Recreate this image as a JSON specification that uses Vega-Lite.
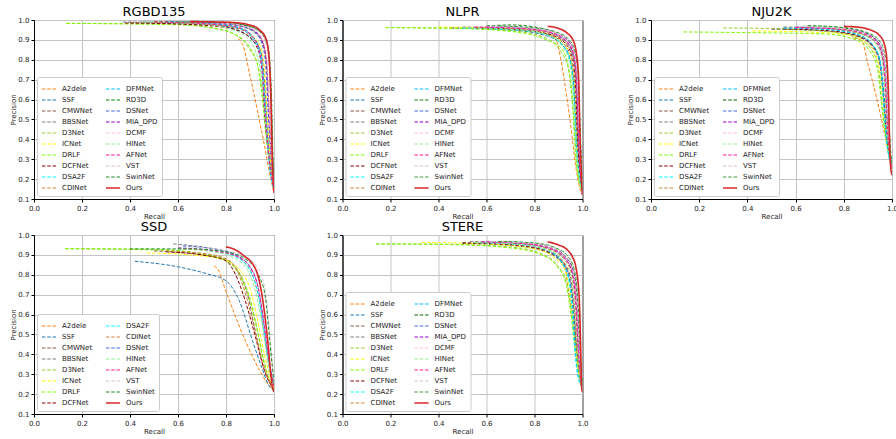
{
"$schema": "https://vega.github.io/schema/vega-lite/v6.json",
"background": "white",
"padding": {"left": 9, "top": 5, "right": 2, "bottom": 0},
"config": {
  "font": "DejaVu Sans",
  "view": {"stroke": "black", "strokeWidth": 1},
  "title": {"fontSize": 13, "fontWeight": "normal", "font": "DejaVu Sans", "offset": -3, "color": "black"},
  "style": {"group-title": {"fontSize": 13, "fontWeight": "normal", "font": "DejaVu Sans"}},
  "axis": {"labelFlush": false, "labelFontSize": 7, "titleFontSize": 7, "titleFontWeight": "normal", "labelFont": "DejaVu Sans", "titleFont": "DejaVu Sans", "gridColor": "#c4c4c4", "gridWidth": 1, "domainColor": "black", "tickColor": "black", "tickSize": 3, "labelColor": "#222222", "titleColor": "#222222", "titlePadding": 1, "labelPadding": 2},
  "legend": {"orient": "bottom-left", "offset": 3, "columns": 2, "symbolType": "stroke", "symbolSize": 200, "labelFontSize": 7, "labelFont": "DejaVu Sans", "labelColor": "#222222", "padding": 4, "rowPadding": -6.3, "columnPadding": 9, "fillColor": "white", "strokeColor": "#cccccc", "cornerRadius": 2, "labelOffset": 5, "labelLimit": 0}
},
"datasets": {
"rgbd": [
{"m":"A2dele","r":0.85,"p":0.905},{"m":"A2dele","r":0.87,"p":0.875},{"m":"A2dele","r":0.9,"p":0.72},{"m":"A2dele","r":0.93,"p":0.55},{"m":"A2dele","r":0.96,"p":0.37},{"m":"A2dele","r":0.98,"p":0.24},{"m":"A2dele","r":1.0,"p":0.13},
{"m":"SSF","r":0.45,"p":0.99},{"m":"SSF","r":0.7,"p":0.98},{"m":"SSF","r":0.82,"p":0.96},{"m":"SSF","r":0.9,"p":0.91},{"m":"SSF","r":0.94,"p":0.84},{"m":"SSF","r":0.955,"p":0.72},{"m":"SSF","r":0.965,"p":0.5},{"m":"SSF","r":0.98,"p":0.28},{"m":"SSF","r":1.0,"p":0.15},
{"m":"CMWNet","r":0.4,"p":0.985},{"m":"CMWNet","r":0.7,"p":0.978},{"m":"CMWNet","r":0.84,"p":0.96},{"m":"CMWNet","r":0.91,"p":0.91},{"m":"CMWNet","r":0.945,"p":0.84},{"m":"CMWNet","r":0.96,"p":0.7},{"m":"CMWNet","r":0.97,"p":0.5},{"m":"CMWNet","r":0.985,"p":0.28},{"m":"CMWNet","r":1.0,"p":0.15},
{"m":"BBSNet","r":0.37,"p":0.99},{"m":"BBSNet","r":0.7,"p":0.985},{"m":"BBSNet","r":0.85,"p":0.97},{"m":"BBSNet","r":0.92,"p":0.935},{"m":"BBSNet","r":0.955,"p":0.87},{"m":"BBSNet","r":0.97,"p":0.75},{"m":"BBSNet","r":0.98,"p":0.5},{"m":"BBSNet","r":0.99,"p":0.28},{"m":"BBSNet","r":1.0,"p":0.16},
{"m":"D3Net","r":0.135,"p":0.983},{"m":"D3Net","r":0.6,"p":0.978},{"m":"D3Net","r":0.75,"p":0.96},{"m":"D3Net","r":0.84,"p":0.925},{"m":"D3Net","r":0.9,"p":0.85},{"m":"D3Net","r":0.935,"p":0.76},{"m":"D3Net","r":0.955,"p":0.6},{"m":"D3Net","r":0.975,"p":0.35},{"m":"D3Net","r":1.0,"p":0.15},
{"m":"ICNet","r":0.5,"p":0.99},{"m":"ICNet","r":0.72,"p":0.98},{"m":"ICNet","r":0.85,"p":0.96},{"m":"ICNet","r":0.91,"p":0.92},{"m":"ICNet","r":0.945,"p":0.86},{"m":"ICNet","r":0.96,"p":0.76},{"m":"ICNet","r":0.97,"p":0.55},{"m":"ICNet","r":0.985,"p":0.3},{"m":"ICNet","r":1.0,"p":0.15},
{"m":"DRLF","r":0.135,"p":0.983},{"m":"DRLF","r":0.6,"p":0.976},{"m":"DRLF","r":0.76,"p":0.955},{"m":"DRLF","r":0.85,"p":0.92},{"m":"DRLF","r":0.9,"p":0.86},{"m":"DRLF","r":0.93,"p":0.78},{"m":"DRLF","r":0.95,"p":0.62},{"m":"DRLF","r":0.97,"p":0.38},{"m":"DRLF","r":1.0,"p":0.15},
{"m":"DCFNet","r":0.38,"p":0.985},{"m":"DCFNet","r":0.6,"p":0.98},{"m":"DCFNet","r":0.78,"p":0.965},{"m":"DCFNet","r":0.88,"p":0.93},{"m":"DCFNet","r":0.93,"p":0.86},{"m":"DCFNet","r":0.95,"p":0.75},{"m":"DCFNet","r":0.96,"p":0.55},{"m":"DCFNet","r":0.98,"p":0.3},{"m":"DCFNet","r":1.0,"p":0.15},
{"m":"DSA2F","r":0.55,"p":0.99},{"m":"DSA2F","r":0.75,"p":0.98},{"m":"DSA2F","r":0.85,"p":0.96},{"m":"DSA2F","r":0.91,"p":0.91},{"m":"DSA2F","r":0.94,"p":0.83},{"m":"DSA2F","r":0.955,"p":0.7},{"m":"DSA2F","r":0.965,"p":0.5},{"m":"DSA2F","r":0.98,"p":0.28},{"m":"DSA2F","r":1.0,"p":0.14},
{"m":"CDINet","r":0.5,"p":0.99},{"m":"CDINet","r":0.75,"p":0.985},{"m":"CDINet","r":0.86,"p":0.97},{"m":"CDINet","r":0.92,"p":0.94},{"m":"CDINet","r":0.955,"p":0.88},{"m":"CDINet","r":0.97,"p":0.77},{"m":"CDINet","r":0.98,"p":0.55},{"m":"CDINet","r":0.99,"p":0.3},{"m":"CDINet","r":1.0,"p":0.15},
{"m":"DFMNet","r":0.55,"p":0.99},{"m":"DFMNet","r":0.75,"p":0.98},{"m":"DFMNet","r":0.86,"p":0.96},{"m":"DFMNet","r":0.91,"p":0.92},{"m":"DFMNet","r":0.94,"p":0.85},{"m":"DFMNet","r":0.955,"p":0.72},{"m":"DFMNet","r":0.968,"p":0.5},{"m":"DFMNet","r":0.982,"p":0.28},{"m":"DFMNet","r":1.0,"p":0.14},
{"m":"RD3D","r":0.5,"p":0.99},{"m":"RD3D","r":0.75,"p":0.988},{"m":"RD3D","r":0.87,"p":0.975},{"m":"RD3D","r":0.93,"p":0.95},{"m":"RD3D","r":0.965,"p":0.9},{"m":"RD3D","r":0.98,"p":0.8},{"m":"RD3D","r":0.988,"p":0.6},{"m":"RD3D","r":0.995,"p":0.3},{"m":"RD3D","r":1.0,"p":0.15},
{"m":"DSNet","r":0.55,"p":0.99},{"m":"DSNet","r":0.75,"p":0.985},{"m":"DSNet","r":0.86,"p":0.97},{"m":"DSNet","r":0.92,"p":0.94},{"m":"DSNet","r":0.95,"p":0.88},{"m":"DSNet","r":0.965,"p":0.78},{"m":"DSNet","r":0.975,"p":0.55},{"m":"DSNet","r":0.988,"p":0.3},{"m":"DSNet","r":1.0,"p":0.15},
{"m":"MIA_DPD","r":0.6,"p":0.99},{"m":"MIA_DPD","r":0.78,"p":0.985},{"m":"MIA_DPD","r":0.87,"p":0.97},{"m":"MIA_DPD","r":0.925,"p":0.94},{"m":"MIA_DPD","r":0.955,"p":0.88},{"m":"MIA_DPD","r":0.97,"p":0.78},{"m":"MIA_DPD","r":0.978,"p":0.55},{"m":"MIA_DPD","r":0.99,"p":0.3},{"m":"MIA_DPD","r":1.0,"p":0.15},
{"m":"DCMF","r":0.6,"p":0.99},{"m":"DCMF","r":0.78,"p":0.985},{"m":"DCMF","r":0.87,"p":0.97},{"m":"DCMF","r":0.93,"p":0.94},{"m":"DCMF","r":0.96,"p":0.88},{"m":"DCMF","r":0.972,"p":0.78},{"m":"DCMF","r":0.98,"p":0.55},{"m":"DCMF","r":0.99,"p":0.3},{"m":"DCMF","r":1.0,"p":0.16},
{"m":"HINet","r":0.45,"p":0.99},{"m":"HINet","r":0.7,"p":0.98},{"m":"HINet","r":0.8,"p":0.96},{"m":"HINet","r":0.88,"p":0.92},{"m":"HINet","r":0.92,"p":0.85},{"m":"HINet","r":0.945,"p":0.74},{"m":"HINet","r":0.96,"p":0.55},{"m":"HINet","r":0.978,"p":0.32},{"m":"HINet","r":1.0,"p":0.15},
{"m":"AFNet","r":0.5,"p":0.99},{"m":"AFNet","r":0.72,"p":0.98},{"m":"AFNet","r":0.84,"p":0.965},{"m":"AFNet","r":0.9,"p":0.93},{"m":"AFNet","r":0.935,"p":0.86},{"m":"AFNet","r":0.95,"p":0.75},{"m":"AFNet","r":0.962,"p":0.55},{"m":"AFNet","r":0.98,"p":0.3},{"m":"AFNet","r":1.0,"p":0.15},
{"m":"VST","r":0.6,"p":0.99},{"m":"VST","r":0.8,"p":0.985},{"m":"VST","r":0.88,"p":0.97},{"m":"VST","r":0.935,"p":0.945},{"m":"VST","r":0.965,"p":0.89},{"m":"VST","r":0.978,"p":0.8},{"m":"VST","r":0.985,"p":0.6},{"m":"VST","r":0.993,"p":0.3},{"m":"VST","r":1.0,"p":0.16},
{"m":"SwinNet","r":0.6,"p":0.99},{"m":"SwinNet","r":0.8,"p":0.988},{"m":"SwinNet","r":0.88,"p":0.975},{"m":"SwinNet","r":0.935,"p":0.95},{"m":"SwinNet","r":0.968,"p":0.9},{"m":"SwinNet","r":0.982,"p":0.8},{"m":"SwinNet","r":0.99,"p":0.6},{"m":"SwinNet","r":0.996,"p":0.3},{"m":"SwinNet","r":1.0,"p":0.16},
{"m":"Ours","r":0.65,"p":0.992},{"m":"Ours","r":0.82,"p":0.988},{"m":"Ours","r":0.9,"p":0.975},{"m":"Ours","r":0.94,"p":0.95},{"m":"Ours","r":0.965,"p":0.91},{"m":"Ours","r":0.978,"p":0.83},{"m":"Ours","r":0.986,"p":0.65},{"m":"Ours","r":0.993,"p":0.3},{"m":"Ours","r":1.0,"p":0.13}
],
"nlpr": [
{"m":"A2dele","r":0.86,"p":0.925},{"m":"A2dele","r":0.89,"p":0.9},{"m":"A2dele","r":0.91,"p":0.8},{"m":"A2dele","r":0.93,"p":0.65},{"m":"A2dele","r":0.95,"p":0.48},{"m":"A2dele","r":0.97,"p":0.28},{"m":"A2dele","r":0.99,"p":0.15},{"m":"A2dele","r":1.0,"p":0.12},
{"m":"SSF","r":0.45,"p":0.96},{"m":"SSF","r":0.7,"p":0.95},{"m":"SSF","r":0.85,"p":0.92},{"m":"SSF","r":0.92,"p":0.87},{"m":"SSF","r":0.95,"p":0.8},{"m":"SSF","r":0.965,"p":0.65},{"m":"SSF","r":0.975,"p":0.4},{"m":"SSF","r":1.0,"p":0.13},
{"m":"CMWNet","r":0.45,"p":0.96},{"m":"CMWNet","r":0.7,"p":0.952},{"m":"CMWNet","r":0.86,"p":0.925},{"m":"CMWNet","r":0.925,"p":0.875},{"m":"CMWNet","r":0.955,"p":0.8},{"m":"CMWNet","r":0.968,"p":0.65},{"m":"CMWNet","r":0.978,"p":0.4},{"m":"CMWNet","r":1.0,"p":0.13},
{"m":"BBSNet","r":0.62,"p":0.97},{"m":"BBSNet","r":0.75,"p":0.96},{"m":"BBSNet","r":0.87,"p":0.935},{"m":"BBSNet","r":0.93,"p":0.89},{"m":"BBSNet","r":0.96,"p":0.82},{"m":"BBSNet","r":0.973,"p":0.68},{"m":"BBSNet","r":0.982,"p":0.4},{"m":"BBSNet","r":1.0,"p":0.13},
{"m":"D3Net","r":0.18,"p":0.962},{"m":"D3Net","r":0.5,"p":0.958},{"m":"D3Net","r":0.75,"p":0.94},{"m":"D3Net","r":0.86,"p":0.9},{"m":"D3Net","r":0.91,"p":0.84},{"m":"D3Net","r":0.94,"p":0.76},{"m":"D3Net","r":0.96,"p":0.55},{"m":"D3Net","r":0.975,"p":0.3},{"m":"D3Net","r":1.0,"p":0.13},
{"m":"ICNet","r":0.4,"p":0.965},{"m":"ICNet","r":0.7,"p":0.955},{"m":"ICNet","r":0.85,"p":0.93},{"m":"ICNet","r":0.92,"p":0.88},{"m":"ICNet","r":0.95,"p":0.81},{"m":"ICNet","r":0.965,"p":0.68},{"m":"ICNet","r":0.976,"p":0.4},{"m":"ICNet","r":1.0,"p":0.13},
{"m":"DRLF","r":0.18,"p":0.962},{"m":"DRLF","r":0.5,"p":0.957},{"m":"DRLF","r":0.75,"p":0.935},{"m":"DRLF","r":0.85,"p":0.9},{"m":"DRLF","r":0.91,"p":0.86},{"m":"DRLF","r":0.94,"p":0.77},{"m":"DRLF","r":0.958,"p":0.6},{"m":"DRLF","r":0.972,"p":0.3},{"m":"DRLF","r":1.0,"p":0.13},
{"m":"DCFNet","r":0.55,"p":0.96},{"m":"DCFNet","r":0.75,"p":0.95},{"m":"DCFNet","r":0.87,"p":0.925},{"m":"DCFNet","r":0.93,"p":0.88},{"m":"DCFNet","r":0.96,"p":0.8},{"m":"DCFNet","r":0.972,"p":0.65},{"m":"DCFNet","r":0.98,"p":0.4},{"m":"DCFNet","r":1.0,"p":0.13},
{"m":"DSA2F","r":0.5,"p":0.96},{"m":"DSA2F","r":0.75,"p":0.948},{"m":"DSA2F","r":0.86,"p":0.92},{"m":"DSA2F","r":0.92,"p":0.87},{"m":"DSA2F","r":0.95,"p":0.78},{"m":"DSA2F","r":0.962,"p":0.65},{"m":"DSA2F","r":0.972,"p":0.4},{"m":"DSA2F","r":1.0,"p":0.13},
{"m":"CDINet","r":0.5,"p":0.965},{"m":"CDINet","r":0.75,"p":0.955},{"m":"CDINet","r":0.87,"p":0.93},{"m":"CDINet","r":0.93,"p":0.885},{"m":"CDINet","r":0.96,"p":0.82},{"m":"CDINet","r":0.975,"p":0.68},{"m":"CDINet","r":0.983,"p":0.4},{"m":"CDINet","r":1.0,"p":0.13},
{"m":"DFMNet","r":0.5,"p":0.96},{"m":"DFMNet","r":0.75,"p":0.948},{"m":"DFMNet","r":0.86,"p":0.92},{"m":"DFMNet","r":0.92,"p":0.87},{"m":"DFMNet","r":0.95,"p":0.79},{"m":"DFMNet","r":0.964,"p":0.65},{"m":"DFMNet","r":0.974,"p":0.4},{"m":"DFMNet","r":1.0,"p":0.13},
{"m":"RD3D","r":0.6,"p":0.97},{"m":"RD3D","r":0.7,"p":0.975},{"m":"RD3D","r":0.8,"p":0.965},{"m":"RD3D","r":0.88,"p":0.94},{"m":"RD3D","r":0.94,"p":0.9},{"m":"RD3D","r":0.97,"p":0.83},{"m":"RD3D","r":0.983,"p":0.7},{"m":"RD3D","r":0.99,"p":0.45},{"m":"RD3D","r":1.0,"p":0.14},
{"m":"DSNet","r":0.6,"p":0.965},{"m":"DSNet","r":0.78,"p":0.955},{"m":"DSNet","r":0.88,"p":0.93},{"m":"DSNet","r":0.935,"p":0.89},{"m":"DSNet","r":0.963,"p":0.82},{"m":"DSNet","r":0.976,"p":0.68},{"m":"DSNet","r":0.984,"p":0.4},{"m":"DSNet","r":1.0,"p":0.13},
{"m":"MIA_DPD","r":0.6,"p":0.965},{"m":"MIA_DPD","r":0.78,"p":0.955},{"m":"MIA_DPD","r":0.88,"p":0.935},{"m":"MIA_DPD","r":0.94,"p":0.895},{"m":"MIA_DPD","r":0.965,"p":0.83},{"m":"MIA_DPD","r":0.977,"p":0.7},{"m":"MIA_DPD","r":0.985,"p":0.4},{"m":"MIA_DPD","r":1.0,"p":0.13},
{"m":"DCMF","r":0.6,"p":0.965},{"m":"DCMF","r":0.78,"p":0.955},{"m":"DCMF","r":0.88,"p":0.935},{"m":"DCMF","r":0.94,"p":0.89},{"m":"DCMF","r":0.966,"p":0.82},{"m":"DCMF","r":0.978,"p":0.68},{"m":"DCMF","r":0.986,"p":0.4},{"m":"DCMF","r":1.0,"p":0.13},
{"m":"HINet","r":0.5,"p":0.96},{"m":"HINet","r":0.75,"p":0.948},{"m":"HINet","r":0.86,"p":0.92},{"m":"HINet","r":0.92,"p":0.86},{"m":"HINet","r":0.948,"p":0.78},{"m":"HINet","r":0.962,"p":0.62},{"m":"HINet","r":0.973,"p":0.38},{"m":"HINet","r":1.0,"p":0.13},
{"m":"AFNet","r":0.55,"p":0.965},{"m":"AFNet","r":0.78,"p":0.955},{"m":"AFNet","r":0.88,"p":0.932},{"m":"AFNet","r":0.935,"p":0.89},{"m":"AFNet","r":0.962,"p":0.83},{"m":"AFNet","r":0.975,"p":0.7},{"m":"AFNet","r":0.983,"p":0.42},{"m":"AFNet","r":1.0,"p":0.13},
{"m":"VST","r":0.62,"p":0.97},{"m":"VST","r":0.8,"p":0.958},{"m":"VST","r":0.89,"p":0.935},{"m":"VST","r":0.945,"p":0.895},{"m":"VST","r":0.968,"p":0.83},{"m":"VST","r":0.98,"p":0.7},{"m":"VST","r":0.988,"p":0.42},{"m":"VST","r":1.0,"p":0.13},
{"m":"SwinNet","r":0.65,"p":0.97},{"m":"SwinNet","r":0.8,"p":0.96},{"m":"SwinNet","r":0.89,"p":0.94},{"m":"SwinNet","r":0.945,"p":0.9},{"m":"SwinNet","r":0.97,"p":0.84},{"m":"SwinNet","r":0.982,"p":0.72},{"m":"SwinNet","r":0.99,"p":0.45},{"m":"SwinNet","r":1.0,"p":0.14},
{"m":"Ours","r":0.855,"p":0.968},{"m":"Ours","r":0.9,"p":0.958},{"m":"Ours","r":0.935,"p":0.935},{"m":"Ours","r":0.96,"p":0.9},{"m":"Ours","r":0.975,"p":0.83},{"m":"Ours","r":0.984,"p":0.7},{"m":"Ours","r":0.99,"p":0.4},{"m":"Ours","r":1.0,"p":0.12}
],
"nju": [
{"m":"A2dele","r":0.84,"p":0.91},{"m":"A2dele","r":0.875,"p":0.895},{"m":"A2dele","r":0.9,"p":0.78},{"m":"A2dele","r":0.93,"p":0.64},{"m":"A2dele","r":0.96,"p":0.48},{"m":"A2dele","r":0.98,"p":0.37},{"m":"A2dele","r":1.0,"p":0.25},
{"m":"SSF","r":0.5,"p":0.955},{"m":"SSF","r":0.72,"p":0.945},{"m":"SSF","r":0.85,"p":0.92},{"m":"SSF","r":0.92,"p":0.87},{"m":"SSF","r":0.95,"p":0.8},{"m":"SSF","r":0.965,"p":0.65},{"m":"SSF","r":0.978,"p":0.45},{"m":"SSF","r":1.0,"p":0.26},
{"m":"CMWNet","r":0.5,"p":0.955},{"m":"CMWNet","r":0.72,"p":0.945},{"m":"CMWNet","r":0.85,"p":0.92},{"m":"CMWNet","r":0.915,"p":0.87},{"m":"CMWNet","r":0.948,"p":0.79},{"m":"CMWNet","r":0.962,"p":0.65},{"m":"CMWNet","r":0.975,"p":0.45},{"m":"CMWNet","r":1.0,"p":0.26},
{"m":"BBSNet","r":0.55,"p":0.965},{"m":"BBSNet","r":0.75,"p":0.955},{"m":"BBSNet","r":0.87,"p":0.93},{"m":"BBSNet","r":0.93,"p":0.89},{"m":"BBSNet","r":0.96,"p":0.82},{"m":"BBSNet","r":0.972,"p":0.68},{"m":"BBSNet","r":0.982,"p":0.45},{"m":"BBSNet","r":1.0,"p":0.26},
{"m":"D3Net","r":0.3,"p":0.96},{"m":"D3Net","r":0.55,"p":0.955},{"m":"D3Net","r":0.75,"p":0.94},{"m":"D3Net","r":0.86,"p":0.905},{"m":"D3Net","r":0.92,"p":0.84},{"m":"D3Net","r":0.945,"p":0.75},{"m":"D3Net","r":0.96,"p":0.55},{"m":"D3Net","r":0.98,"p":0.38},{"m":"D3Net","r":1.0,"p":0.26},
{"m":"ICNet","r":0.42,"p":0.945},{"m":"ICNet","r":0.65,"p":0.94},{"m":"ICNet","r":0.82,"p":0.925},{"m":"ICNet","r":0.9,"p":0.88},{"m":"ICNet","r":0.94,"p":0.8},{"m":"ICNet","r":0.958,"p":0.65},{"m":"ICNet","r":0.972,"p":0.45},{"m":"ICNet","r":1.0,"p":0.26},
{"m":"DRLF","r":0.135,"p":0.94},{"m":"DRLF","r":0.5,"p":0.935},{"m":"DRLF","r":0.72,"p":0.93},{"m":"DRLF","r":0.85,"p":0.9},{"m":"DRLF","r":0.91,"p":0.84},{"m":"DRLF","r":0.94,"p":0.75},{"m":"DRLF","r":0.955,"p":0.6},{"m":"DRLF","r":0.975,"p":0.4},{"m":"DRLF","r":1.0,"p":0.26},
{"m":"DCFNet","r":0.55,"p":0.955},{"m":"DCFNet","r":0.75,"p":0.945},{"m":"DCFNet","r":0.86,"p":0.92},{"m":"DCFNet","r":0.92,"p":0.87},{"m":"DCFNet","r":0.948,"p":0.8},{"m":"DCFNet","r":0.962,"p":0.65},{"m":"DCFNet","r":0.975,"p":0.45},{"m":"DCFNet","r":1.0,"p":0.26},
{"m":"DSA2F","r":0.55,"p":0.96},{"m":"DSA2F","r":0.75,"p":0.95},{"m":"DSA2F","r":0.86,"p":0.925},{"m":"DSA2F","r":0.92,"p":0.875},{"m":"DSA2F","r":0.95,"p":0.8},{"m":"DSA2F","r":0.963,"p":0.62},{"m":"DSA2F","r":0.975,"p":0.42},{"m":"DSA2F","r":1.0,"p":0.26},
{"m":"CDINet","r":0.55,"p":0.96},{"m":"CDINet","r":0.75,"p":0.952},{"m":"CDINet","r":0.87,"p":0.93},{"m":"CDINet","r":0.93,"p":0.89},{"m":"CDINet","r":0.958,"p":0.82},{"m":"CDINet","r":0.97,"p":0.68},{"m":"CDINet","r":0.98,"p":0.45},{"m":"CDINet","r":1.0,"p":0.26},
{"m":"DFMNet","r":0.55,"p":0.96},{"m":"DFMNet","r":0.75,"p":0.95},{"m":"DFMNet","r":0.86,"p":0.925},{"m":"DFMNet","r":0.92,"p":0.875},{"m":"DFMNet","r":0.95,"p":0.79},{"m":"DFMNet","r":0.964,"p":0.62},{"m":"DFMNet","r":0.976,"p":0.42},{"m":"DFMNet","r":1.0,"p":0.26},
{"m":"RD3D","r":0.65,"p":0.97},{"m":"RD3D","r":0.78,"p":0.962},{"m":"RD3D","r":0.88,"p":0.94},{"m":"RD3D","r":0.935,"p":0.9},{"m":"RD3D","r":0.962,"p":0.83},{"m":"RD3D","r":0.974,"p":0.7},{"m":"RD3D","r":0.983,"p":0.48},{"m":"RD3D","r":1.0,"p":0.27},
{"m":"DSNet","r":0.6,"p":0.962},{"m":"DSNet","r":0.78,"p":0.955},{"m":"DSNet","r":0.88,"p":0.932},{"m":"DSNet","r":0.935,"p":0.89},{"m":"DSNet","r":0.96,"p":0.82},{"m":"DSNet","r":0.973,"p":0.68},{"m":"DSNet","r":0.982,"p":0.45},{"m":"DSNet","r":1.0,"p":0.26},
{"m":"MIA_DPD","r":0.6,"p":0.965},{"m":"MIA_DPD","r":0.78,"p":0.957},{"m":"MIA_DPD","r":0.88,"p":0.935},{"m":"MIA_DPD","r":0.938,"p":0.895},{"m":"MIA_DPD","r":0.962,"p":0.83},{"m":"MIA_DPD","r":0.975,"p":0.7},{"m":"MIA_DPD","r":0.984,"p":0.46},{"m":"MIA_DPD","r":1.0,"p":0.26},
{"m":"DCMF","r":0.6,"p":0.965},{"m":"DCMF","r":0.78,"p":0.956},{"m":"DCMF","r":0.88,"p":0.934},{"m":"DCMF","r":0.936,"p":0.893},{"m":"DCMF","r":0.962,"p":0.825},{"m":"DCMF","r":0.975,"p":0.69},{"m":"DCMF","r":0.984,"p":0.45},{"m":"DCMF","r":1.0,"p":0.26},
{"m":"HINet","r":0.63,"p":0.97},{"m":"HINet","r":0.78,"p":0.958},{"m":"HINet","r":0.87,"p":0.93},{"m":"HINet","r":0.93,"p":0.885},{"m":"HINet","r":0.958,"p":0.81},{"m":"HINet","r":0.97,"p":0.67},{"m":"HINet","r":0.98,"p":0.45},{"m":"HINet","r":1.0,"p":0.26},
{"m":"AFNet","r":0.6,"p":0.962},{"m":"AFNet","r":0.78,"p":0.954},{"m":"AFNet","r":0.88,"p":0.932},{"m":"AFNet","r":0.935,"p":0.89},{"m":"AFNet","r":0.96,"p":0.82},{"m":"AFNet","r":0.973,"p":0.68},{"m":"AFNet","r":0.982,"p":0.45},{"m":"AFNet","r":1.0,"p":0.26},
{"m":"VST","r":0.62,"p":0.968},{"m":"VST","r":0.8,"p":0.958},{"m":"VST","r":0.89,"p":0.937},{"m":"VST","r":0.943,"p":0.9},{"m":"VST","r":0.966,"p":0.835},{"m":"VST","r":0.978,"p":0.7},{"m":"VST","r":0.986,"p":0.46},{"m":"VST","r":1.0,"p":0.27},
{"m":"SwinNet","r":0.65,"p":0.972},{"m":"SwinNet","r":0.8,"p":0.962},{"m":"SwinNet","r":0.89,"p":0.94},{"m":"SwinNet","r":0.945,"p":0.9},{"m":"SwinNet","r":0.968,"p":0.84},{"m":"SwinNet","r":0.98,"p":0.72},{"m":"SwinNet","r":0.988,"p":0.48},{"m":"SwinNet","r":1.0,"p":0.27},
{"m":"Ours","r":0.8,"p":0.968},{"m":"Ours","r":0.86,"p":0.964},{"m":"Ours","r":0.91,"p":0.95},{"m":"Ours","r":0.946,"p":0.925},{"m":"Ours","r":0.968,"p":0.88},{"m":"Ours","r":0.98,"p":0.78},{"m":"Ours","r":0.986,"p":0.6},{"m":"Ours","r":0.992,"p":0.3},{"m":"Ours","r":1.0,"p":0.22}
],
"ssd": [
{"m":"A2dele","r":0.75,"p":0.844},{"m":"A2dele","r":0.77,"p":0.82},{"m":"A2dele","r":0.79,"p":0.75},{"m":"A2dele","r":0.83,"p":0.62},{"m":"A2dele","r":0.88,"p":0.47},{"m":"A2dele","r":0.94,"p":0.32},{"m":"A2dele","r":0.975,"p":0.25},{"m":"A2dele","r":1.0,"p":0.22},
{"m":"SSF","r":0.42,"p":0.868},{"m":"SSF","r":0.6,"p":0.84},{"m":"SSF","r":0.72,"p":0.805},{"m":"SSF","r":0.8,"p":0.77},{"m":"SSF","r":0.855,"p":0.67},{"m":"SSF","r":0.91,"p":0.47},{"m":"SSF","r":0.95,"p":0.33},{"m":"SSF","r":0.98,"p":0.24},{"m":"SSF","r":1.0,"p":0.22},
{"m":"CMWNet","r":0.5,"p":0.92},{"m":"CMWNet","r":0.7,"p":0.9},{"m":"CMWNet","r":0.8,"p":0.875},{"m":"CMWNet","r":0.85,"p":0.82},{"m":"CMWNet","r":0.89,"p":0.7},{"m":"CMWNet","r":0.925,"p":0.5},{"m":"CMWNet","r":0.96,"p":0.32},{"m":"CMWNet","r":1.0,"p":0.22},
{"m":"BBSNet","r":0.58,"p":0.955},{"m":"BBSNet","r":0.7,"p":0.94},{"m":"BBSNet","r":0.8,"p":0.915},{"m":"BBSNet","r":0.87,"p":0.87},{"m":"BBSNet","r":0.91,"p":0.8},{"m":"BBSNet","r":0.94,"p":0.66},{"m":"BBSNet","r":0.965,"p":0.45},{"m":"BBSNet","r":0.985,"p":0.3},{"m":"BBSNet","r":1.0,"p":0.23},
{"m":"D3Net","r":0.13,"p":0.93},{"m":"D3Net","r":0.5,"p":0.925},{"m":"D3Net","r":0.7,"p":0.905},{"m":"D3Net","r":0.8,"p":0.875},{"m":"D3Net","r":0.86,"p":0.8},{"m":"D3Net","r":0.9,"p":0.68},{"m":"D3Net","r":0.935,"p":0.5},{"m":"D3Net","r":0.965,"p":0.33},{"m":"D3Net","r":1.0,"p":0.22},
{"m":"ICNet","r":0.47,"p":0.91},{"m":"ICNet","r":0.65,"p":0.9},{"m":"ICNet","r":0.78,"p":0.88},{"m":"ICNet","r":0.86,"p":0.82},{"m":"ICNet","r":0.9,"p":0.73},{"m":"ICNet","r":0.93,"p":0.58},{"m":"ICNet","r":0.96,"p":0.4},{"m":"ICNet","r":0.985,"p":0.28},{"m":"ICNet","r":1.0,"p":0.23},
{"m":"DRLF","r":0.13,"p":0.932},{"m":"DRLF","r":0.5,"p":0.928},{"m":"DRLF","r":0.7,"p":0.905},{"m":"DRLF","r":0.8,"p":0.87},{"m":"DRLF","r":0.86,"p":0.79},{"m":"DRLF","r":0.9,"p":0.67},{"m":"DRLF","r":0.93,"p":0.52},{"m":"DRLF","r":0.96,"p":0.35},{"m":"DRLF","r":1.0,"p":0.22},
{"m":"DCFNet","r":0.55,"p":0.915},{"m":"DCFNet","r":0.7,"p":0.9},{"m":"DCFNet","r":0.8,"p":0.87},{"m":"DCFNet","r":0.84,"p":0.8},{"m":"DCFNet","r":0.88,"p":0.67},{"m":"DCFNet","r":0.92,"p":0.5},{"m":"DCFNet","r":0.96,"p":0.32},{"m":"DCFNet","r":1.0,"p":0.22},
{"m":"DSA2F","r":0.6,"p":0.935},{"m":"DSA2F","r":0.75,"p":0.92},{"m":"DSA2F","r":0.84,"p":0.89},{"m":"DSA2F","r":0.9,"p":0.82},{"m":"DSA2F","r":0.935,"p":0.7},{"m":"DSA2F","r":0.955,"p":0.55},{"m":"DSA2F","r":0.975,"p":0.38},{"m":"DSA2F","r":1.0,"p":0.24},
{"m":"CDINet","r":0.55,"p":0.92},{"m":"CDINet","r":0.72,"p":0.905},{"m":"CDINet","r":0.81,"p":0.875},{"m":"CDINet","r":0.85,"p":0.81},{"m":"CDINet","r":0.885,"p":0.69},{"m":"CDINet","r":0.92,"p":0.52},{"m":"CDINet","r":0.955,"p":0.35},{"m":"CDINet","r":1.0,"p":0.22},
{"m":"DSNet","r":0.62,"p":0.945},{"m":"DSNet","r":0.75,"p":0.93},{"m":"DSNet","r":0.84,"p":0.9},{"m":"DSNet","r":0.9,"p":0.84},{"m":"DSNet","r":0.935,"p":0.73},{"m":"DSNet","r":0.955,"p":0.58},{"m":"DSNet","r":0.975,"p":0.4},{"m":"DSNet","r":1.0,"p":0.24},
{"m":"HINet","r":0.6,"p":0.93},{"m":"HINet","r":0.75,"p":0.915},{"m":"HINet","r":0.84,"p":0.88},{"m":"HINet","r":0.9,"p":0.8},{"m":"HINet","r":0.93,"p":0.68},{"m":"HINet","r":0.955,"p":0.52},{"m":"HINet","r":0.975,"p":0.36},{"m":"HINet","r":1.0,"p":0.24},
{"m":"AFNet","r":0.6,"p":0.935},{"m":"AFNet","r":0.75,"p":0.92},{"m":"AFNet","r":0.85,"p":0.89},{"m":"AFNet","r":0.91,"p":0.82},{"m":"AFNet","r":0.94,"p":0.7},{"m":"AFNet","r":0.96,"p":0.54},{"m":"AFNet","r":0.978,"p":0.38},{"m":"AFNet","r":1.0,"p":0.24},
{"m":"VST","r":0.65,"p":0.94},{"m":"VST","r":0.78,"p":0.925},{"m":"VST","r":0.87,"p":0.895},{"m":"VST","r":0.93,"p":0.84},{"m":"VST","r":0.96,"p":0.74},{"m":"VST","r":0.975,"p":0.6},{"m":"VST","r":0.988,"p":0.42},{"m":"VST","r":1.0,"p":0.26},
{"m":"SwinNet","r":0.4,"p":0.93},{"m":"SwinNet","r":0.65,"p":0.93},{"m":"SwinNet","r":0.8,"p":0.915},{"m":"SwinNet","r":0.88,"p":0.88},{"m":"SwinNet","r":0.935,"p":0.8},{"m":"SwinNet","r":0.965,"p":0.68},{"m":"SwinNet","r":0.98,"p":0.5},{"m":"SwinNet","r":0.992,"p":0.35},{"m":"SwinNet","r":1.0,"p":0.26},
{"m":"Ours","r":0.8,"p":0.94},{"m":"Ours","r":0.84,"p":0.925},{"m":"Ours","r":0.87,"p":0.9},{"m":"Ours","r":0.925,"p":0.824},{"m":"Ours","r":0.951,"p":0.69},{"m":"Ours","r":0.972,"p":0.49},{"m":"Ours","r":0.993,"p":0.24},{"m":"Ours","r":1.0,"p":0.21}
],
"stere": [
{"m":"A2dele","r":0.9,"p":0.88},{"m":"A2dele","r":0.925,"p":0.855},{"m":"A2dele","r":0.94,"p":0.73},{"m":"A2dele","r":0.96,"p":0.58},{"m":"A2dele","r":0.975,"p":0.42},{"m":"A2dele","r":0.99,"p":0.26},{"m":"A2dele","r":1.0,"p":0.22},
{"m":"SSF","r":0.5,"p":0.96},{"m":"SSF","r":0.7,"p":0.95},{"m":"SSF","r":0.84,"p":0.92},{"m":"SSF","r":0.91,"p":0.87},{"m":"SSF","r":0.945,"p":0.79},{"m":"SSF","r":0.96,"p":0.65},{"m":"SSF","r":0.972,"p":0.45},{"m":"SSF","r":0.99,"p":0.28},{"m":"SSF","r":1.0,"p":0.24},
{"m":"CMWNet","r":0.5,"p":0.958},{"m":"CMWNet","r":0.7,"p":0.948},{"m":"CMWNet","r":0.84,"p":0.918},{"m":"CMWNet","r":0.91,"p":0.865},{"m":"CMWNet","r":0.945,"p":0.78},{"m":"CMWNet","r":0.962,"p":0.64},{"m":"CMWNet","r":0.975,"p":0.44},{"m":"CMWNet","r":0.99,"p":0.28},{"m":"CMWNet","r":1.0,"p":0.24},
{"m":"BBSNet","r":0.53,"p":0.967},{"m":"BBSNet","r":0.72,"p":0.958},{"m":"BBSNet","r":0.86,"p":0.93},{"m":"BBSNet","r":0.925,"p":0.885},{"m":"BBSNet","r":0.958,"p":0.81},{"m":"BBSNet","r":0.972,"p":0.68},{"m":"BBSNet","r":0.982,"p":0.45},{"m":"BBSNet","r":0.993,"p":0.28},{"m":"BBSNet","r":1.0,"p":0.24},
{"m":"D3Net","r":0.14,"p":0.955},{"m":"D3Net","r":0.45,"p":0.953},{"m":"D3Net","r":0.7,"p":0.94},{"m":"D3Net","r":0.84,"p":0.9},{"m":"D3Net","r":0.9,"p":0.84},{"m":"D3Net","r":0.935,"p":0.76},{"m":"D3Net","r":0.955,"p":0.6},{"m":"D3Net","r":0.975,"p":0.4},{"m":"D3Net","r":1.0,"p":0.24},
{"m":"ICNet","r":0.33,"p":0.963},{"m":"ICNet","r":0.6,"p":0.955},{"m":"ICNet","r":0.8,"p":0.93},{"m":"ICNet","r":0.89,"p":0.88},{"m":"ICNet","r":0.93,"p":0.81},{"m":"ICNet","r":0.952,"p":0.68},{"m":"ICNet","r":0.968,"p":0.45},{"m":"ICNet","r":0.988,"p":0.28},{"m":"ICNet","r":1.0,"p":0.24},
{"m":"DRLF","r":0.14,"p":0.955},{"m":"DRLF","r":0.45,"p":0.952},{"m":"DRLF","r":0.7,"p":0.935},{"m":"DRLF","r":0.83,"p":0.9},{"m":"DRLF","r":0.895,"p":0.84},{"m":"DRLF","r":0.93,"p":0.76},{"m":"DRLF","r":0.952,"p":0.6},{"m":"DRLF","r":0.972,"p":0.4},{"m":"DRLF","r":1.0,"p":0.24},
{"m":"DCFNet","r":0.5,"p":0.96},{"m":"DCFNet","r":0.72,"p":0.95},{"m":"DCFNet","r":0.85,"p":0.92},{"m":"DCFNet","r":0.915,"p":0.87},{"m":"DCFNet","r":0.95,"p":0.79},{"m":"DCFNet","r":0.965,"p":0.65},{"m":"DCFNet","r":0.977,"p":0.45},{"m":"DCFNet","r":0.99,"p":0.28},{"m":"DCFNet","r":1.0,"p":0.24},
{"m":"DSA2F","r":0.55,"p":0.962},{"m":"DSA2F","r":0.74,"p":0.952},{"m":"DSA2F","r":0.86,"p":0.92},{"m":"DSA2F","r":0.915,"p":0.86},{"m":"DSA2F","r":0.945,"p":0.76},{"m":"DSA2F","r":0.958,"p":0.6},{"m":"DSA2F","r":0.968,"p":0.42},{"m":"DSA2F","r":0.985,"p":0.27},{"m":"DSA2F","r":1.0,"p":0.24},
{"m":"CDINet","r":0.55,"p":0.964},{"m":"CDINet","r":0.74,"p":0.955},{"m":"CDINet","r":0.86,"p":0.928},{"m":"CDINet","r":0.922,"p":0.88},{"m":"CDINet","r":0.955,"p":0.8},{"m":"CDINet","r":0.97,"p":0.66},{"m":"CDINet","r":0.98,"p":0.45},{"m":"CDINet","r":0.992,"p":0.28},{"m":"CDINet","r":1.0,"p":0.24},
{"m":"DFMNet","r":0.55,"p":0.962},{"m":"DFMNet","r":0.74,"p":0.952},{"m":"DFMNet","r":0.86,"p":0.92},{"m":"DFMNet","r":0.915,"p":0.86},{"m":"DFMNet","r":0.946,"p":0.77},{"m":"DFMNet","r":0.96,"p":0.62},{"m":"DFMNet","r":0.97,"p":0.42},{"m":"DFMNet","r":0.986,"p":0.27},{"m":"DFMNet","r":1.0,"p":0.24},
{"m":"RD3D","r":0.6,"p":0.968},{"m":"RD3D","r":0.75,"p":0.962},{"m":"RD3D","r":0.87,"p":0.935},{"m":"RD3D","r":0.93,"p":0.89},{"m":"RD3D","r":0.962,"p":0.82},{"m":"RD3D","r":0.976,"p":0.7},{"m":"RD3D","r":0.985,"p":0.5},{"m":"RD3D","r":0.995,"p":0.3},{"m":"RD3D","r":1.0,"p":0.25},
{"m":"DSNet","r":0.58,"p":0.965},{"m":"DSNet","r":0.76,"p":0.956},{"m":"DSNet","r":0.87,"p":0.93},{"m":"DSNet","r":0.925,"p":0.885},{"m":"DSNet","r":0.958,"p":0.81},{"m":"DSNet","r":0.972,"p":0.68},{"m":"DSNet","r":0.982,"p":0.46},{"m":"DSNet","r":0.993,"p":0.28},{"m":"DSNet","r":1.0,"p":0.24},
{"m":"MIA_DPD","r":0.6,"p":0.966},{"m":"MIA_DPD","r":0.78,"p":0.957},{"m":"MIA_DPD","r":0.875,"p":0.932},{"m":"MIA_DPD","r":0.93,"p":0.888},{"m":"MIA_DPD","r":0.96,"p":0.815},{"m":"MIA_DPD","r":0.974,"p":0.69},{"m":"MIA_DPD","r":0.984,"p":0.47},{"m":"MIA_DPD","r":0.994,"p":0.28},{"m":"MIA_DPD","r":1.0,"p":0.24},
{"m":"DCMF","r":0.6,"p":0.966},{"m":"DCMF","r":0.78,"p":0.957},{"m":"DCMF","r":0.875,"p":0.932},{"m":"DCMF","r":0.93,"p":0.886},{"m":"DCMF","r":0.96,"p":0.81},{"m":"DCMF","r":0.974,"p":0.68},{"m":"DCMF","r":0.984,"p":0.46},{"m":"DCMF","r":0.994,"p":0.28},{"m":"DCMF","r":1.0,"p":0.24},
{"m":"HINet","r":0.55,"p":0.962},{"m":"HINet","r":0.74,"p":0.952},{"m":"HINet","r":0.86,"p":0.922},{"m":"HINet","r":0.92,"p":0.87},{"m":"HINet","r":0.952,"p":0.79},{"m":"HINet","r":0.966,"p":0.65},{"m":"HINet","r":0.977,"p":0.45},{"m":"HINet","r":0.99,"p":0.28},{"m":"HINet","r":1.0,"p":0.24},
{"m":"AFNet","r":0.58,"p":0.965},{"m":"AFNet","r":0.76,"p":0.956},{"m":"AFNet","r":0.87,"p":0.93},{"m":"AFNet","r":0.925,"p":0.884},{"m":"AFNet","r":0.957,"p":0.81},{"m":"AFNet","r":0.971,"p":0.68},{"m":"AFNet","r":0.981,"p":0.46},{"m":"AFNet","r":0.993,"p":0.28},{"m":"AFNet","r":1.0,"p":0.24},
{"m":"VST","r":0.62,"p":0.967},{"m":"VST","r":0.8,"p":0.958},{"m":"VST","r":0.885,"p":0.935},{"m":"VST","r":0.937,"p":0.892},{"m":"VST","r":0.965,"p":0.82},{"m":"VST","r":0.978,"p":0.7},{"m":"VST","r":0.987,"p":0.48},{"m":"VST","r":0.995,"p":0.29},{"m":"VST","r":1.0,"p":0.25},
{"m":"SwinNet","r":0.65,"p":0.968},{"m":"SwinNet","r":0.8,"p":0.96},{"m":"SwinNet","r":0.885,"p":0.937},{"m":"SwinNet","r":0.938,"p":0.895},{"m":"SwinNet","r":0.966,"p":0.825},{"m":"SwinNet","r":0.979,"p":0.71},{"m":"SwinNet","r":0.988,"p":0.5},{"m":"SwinNet","r":0.996,"p":0.3},{"m":"SwinNet","r":1.0,"p":0.25},
{"m":"Ours","r":0.854,"p":0.966},{"m":"Ours","r":0.9,"p":0.95},{"m":"Ours","r":0.937,"p":0.925},{"m":"Ours","r":0.958,"p":0.89},{"m":"Ours","r":0.972,"p":0.841},{"m":"Ours","r":0.986,"p":0.69},{"m":"Ours","r":0.992,"p":0.45},{"m":"Ours","r":0.996,"p":0.24},{"m":"Ours","r":1.0,"p":0.21}
]
},
"columns": 3,
"spacing": {"column": 36.5, "row": 0},
"resolve": {"scale": {"color": "independent", "strokeDash": "independent", "strokeWidth": "independent"}, "legend": {"color": "independent", "strokeDash": "independent", "strokeWidth": "independent"}},
"concat": [
{"title": {"text": "RGBD135", "fontWeight": "normal", "fontSize": 13, "offset": -3}, "width": 240, "height": 179, "data": {"name": "rgbd"},
 "mark": {"type": "line", "interpolate": "monotone", "clip": true},
 "encoding": {
  "x": {"field": "r", "type": "quantitative", "scale": {"domain": [0, 1], "nice": false, "zero": false}, "axis": {"title": "Recall", "values": [0, 0.2, 0.4, 0.6, 0.8, 1.0], "format": ".1f"}},
  "y": {"field": "p", "type": "quantitative", "scale": {"domain": [0.1, 1], "nice": false, "zero": false}, "axis": {"title": "Precision", "values": [0.1, 0.2, 0.3, 0.4, 0.5, 0.6, 0.7, 0.8, 0.9, 1.0], "format": ".1f"}},
  "color": {"field": "m", "type": "nominal", "legend": {"title": null}, "scale": {"domain": ["A2dele","SSF","CMWNet","BBSNet","D3Net","ICNet","DRLF","DCFNet","DSA2F","CDINet","DFMNet","RD3D","DSNet","MIA_DPD","DCMF","HINet","AFNet","VST","SwinNet","Ours"], "range": ["#ff7f0e","#1f77b4","#8c564b","#7f7f7f","#9acd32","#ffff00","#7cfc00","#8b0000","#00ffff","#cd853f","#00bfff","#008000","#4169e1","#9400d3","#ffc0cb","#90ee90","#ff1493","#d8bfd8","#228b22","#d62728"]}},
  "strokeDash": {"field": "m", "type": "nominal", "legend": {"title": null}, "scale": {"domain": ["A2dele","SSF","CMWNet","BBSNet","D3Net","ICNet","DRLF","DCFNet","DSA2F","CDINet","DFMNet","RD3D","DSNet","MIA_DPD","DCMF","HINet","AFNet","VST","SwinNet","Ours"], "range": [[3.5,1.8],[3.5,1.8],[3.5,1.8],[3.5,1.8],[3.5,1.8],[3.5,1.8],[3.5,1.8],[3.5,1.8],[3.5,1.8],[3.5,1.8],[3.5,1.8],[3.5,1.8],[3.5,1.8],[3.5,1.8],[3.5,1.8],[3.5,1.8],[3.5,1.8],[3.5,1.8],[3.5,1.8],[1,0]]}},
  "strokeWidth": {"field": "m", "type": "nominal", "legend": {"title": null}, "scale": {"type": "ordinal", "domain": ["A2dele","SSF","CMWNet","BBSNet","D3Net","ICNet","DRLF","DCFNet","DSA2F","CDINet","DFMNet","RD3D","DSNet","MIA_DPD","DCMF","HINet","AFNet","VST","SwinNet","Ours"], "range": [1,1,1,1,1,1,1,1,1,1,1,1,1,1,1,1,1,1,1,1.6]}}
 }},
{"title": {"text": "NLPR", "fontWeight": "normal", "fontSize": 13, "offset": -3}, "width": 240, "height": 179, "data": {"name": "nlpr"},
 "mark": {"type": "line", "interpolate": "monotone", "clip": true},
 "encoding": {
  "x": {"field": "r", "type": "quantitative", "scale": {"domain": [0, 1], "nice": false, "zero": false}, "axis": {"title": "Recall", "values": [0, 0.2, 0.4, 0.6, 0.8, 1.0], "format": ".1f"}},
  "y": {"field": "p", "type": "quantitative", "scale": {"domain": [0.1, 1], "nice": false, "zero": false}, "axis": {"title": "Precision", "values": [0.1, 0.2, 0.3, 0.4, 0.5, 0.6, 0.7, 0.8, 0.9, 1.0], "format": ".1f"}},
  "color": {"field": "m", "type": "nominal", "legend": {"title": null}, "scale": {"domain": ["A2dele","SSF","CMWNet","BBSNet","D3Net","ICNet","DRLF","DCFNet","DSA2F","CDINet","DFMNet","RD3D","DSNet","MIA_DPD","DCMF","HINet","AFNet","VST","SwinNet","Ours"], "range": ["#ff7f0e","#1f77b4","#8c564b","#7f7f7f","#9acd32","#ffff00","#7cfc00","#8b0000","#00ffff","#cd853f","#00bfff","#1a7a1a","#4169e1","#9400d3","#ffc0cb","#90ee90","#ff1493","#d8bfd8","#3c9c3c","#d62728"]}},
  "strokeDash": {"field": "m", "type": "nominal", "legend": {"title": null}, "scale": {"domain": ["A2dele","SSF","CMWNet","BBSNet","D3Net","ICNet","DRLF","DCFNet","DSA2F","CDINet","DFMNet","RD3D","DSNet","MIA_DPD","DCMF","HINet","AFNet","VST","SwinNet","Ours"], "range": [[3.5,1.8],[3.5,1.8],[3.5,1.8],[3.5,1.8],[3.5,1.8],[3.5,1.8],[3.5,1.8],[3.5,1.8],[3.5,1.8],[3.5,1.8],[3.5,1.8],[3.5,1.8],[3.5,1.8],[3.5,1.8],[3.5,1.8],[3.5,1.8],[3.5,1.8],[3.5,1.8],[3.5,1.8],[1,0]]}},
  "strokeWidth": {"field": "m", "type": "nominal", "legend": {"title": null}, "scale": {"type": "ordinal", "domain": ["A2dele","SSF","CMWNet","BBSNet","D3Net","ICNet","DRLF","DCFNet","DSA2F","CDINet","DFMNet","RD3D","DSNet","MIA_DPD","DCMF","HINet","AFNet","VST","SwinNet","Ours"], "range": [1,1,1,1,1,1,1,1,1,1,1,1,1,1,1,1,1,1,1,1.6]}}
 }},
{"title": {"text": "NJU2K", "fontWeight": "normal", "fontSize": 13, "offset": -3}, "width": 241, "height": 179, "data": {"name": "nju"},
 "mark": {"type": "line", "interpolate": "monotone", "clip": true},
 "encoding": {
  "x": {"field": "r", "type": "quantitative", "scale": {"domain": [0, 1], "nice": false, "zero": false}, "axis": {"title": "Recall", "values": [0, 0.2, 0.4, 0.6, 0.8, 1.0], "format": ".1f"}},
  "y": {"field": "p", "type": "quantitative", "scale": {"domain": [0.1, 1], "nice": false, "zero": false}, "axis": {"title": "Precision", "values": [0.1, 0.2, 0.3, 0.4, 0.5, 0.6, 0.7, 0.8, 0.9, 1.0], "format": ".1f"}},
  "color": {"field": "m", "type": "nominal", "legend": {"title": null}, "scale": {"domain": ["A2dele","SSF","CMWNet","BBSNet","D3Net","ICNet","DRLF","DCFNet","DSA2F","CDINet","DFMNet","RD3D","DSNet","MIA_DPD","DCMF","HINet","AFNet","VST","SwinNet","Ours"], "range": ["#ff7f0e","#1f77b4","#8c564b","#7f7f7f","#9acd32","#ffff00","#7cfc00","#8b0000","#00ffff","#cd853f","#00bfff","#006400","#4169e1","#9400d3","#ffc0cb","#90ee90","#ff1493","#d8bfd8","#3c9c3c","#d62728"]}},
  "strokeDash": {"field": "m", "type": "nominal", "legend": {"title": null}, "scale": {"domain": ["A2dele","SSF","CMWNet","BBSNet","D3Net","ICNet","DRLF","DCFNet","DSA2F","CDINet","DFMNet","RD3D","DSNet","MIA_DPD","DCMF","HINet","AFNet","VST","SwinNet","Ours"], "range": [[3.5,1.8],[3.5,1.8],[3.5,1.8],[3.5,1.8],[3.5,1.8],[3.5,1.8],[3.5,1.8],[3.5,1.8],[3.5,1.8],[3.5,1.8],[3.5,1.8],[3.5,1.8],[3.5,1.8],[3.5,1.8],[3.5,1.8],[3.5,1.8],[3.5,1.8],[3.5,1.8],[3.5,1.8],[1,0]]}},
  "strokeWidth": {"field": "m", "type": "nominal", "legend": {"title": null}, "scale": {"type": "ordinal", "domain": ["A2dele","SSF","CMWNet","BBSNet","D3Net","ICNet","DRLF","DCFNet","DSA2F","CDINet","DFMNet","RD3D","DSNet","MIA_DPD","DCMF","HINet","AFNet","VST","SwinNet","Ours"], "range": [1,1,1,1,1,1,1,1,1,1,1,1,1,1,1,1,1,1,1,1.6]}}
 }},
{"title": {"text": "SSD", "fontWeight": "normal", "fontSize": 13, "offset": -3}, "width": 240, "height": 179, "data": {"name": "ssd"},
 "mark": {"type": "line", "interpolate": "monotone", "clip": true},
 "encoding": {
  "x": {"field": "r", "type": "quantitative", "scale": {"domain": [0, 1], "nice": false, "zero": false}, "axis": {"title": "Recall", "values": [0, 0.2, 0.4, 0.6, 0.8, 1.0], "format": ".1f"}},
  "y": {"field": "p", "type": "quantitative", "scale": {"domain": [0.1, 1], "nice": false, "zero": false}, "axis": {"title": "Precision", "values": [0.1, 0.2, 0.3, 0.4, 0.5, 0.6, 0.7, 0.8, 0.9, 1.0], "format": ".1f"}},
  "color": {"field": "m", "type": "nominal", "legend": {"title": null}, "scale": {"domain": ["A2dele","SSF","CMWNet","BBSNet","D3Net","ICNet","DRLF","DCFNet","DSA2F","CDINet","DSNet","HINet","AFNet","VST","SwinNet","Ours"], "range": ["#ff7f0e","#1f77b4","#8c564b","#7f7f7f","#9acd32","#ffff00","#7cfc00","#8b0000","#00ffff","#cd853f","#4169e1","#90ee90","#ff1493","#d8bfd8","#228b22","#d62728"]}},
  "strokeDash": {"field": "m", "type": "nominal", "legend": {"title": null}, "scale": {"domain": ["A2dele","SSF","CMWNet","BBSNet","D3Net","ICNet","DRLF","DCFNet","DSA2F","CDINet","DSNet","HINet","AFNet","VST","SwinNet","Ours"], "range": [[3.5,1.8],[3.5,1.8],[3.5,1.8],[3.5,1.8],[3.5,1.8],[3.5,1.8],[3.5,1.8],[3.5,1.8],[3.5,1.8],[3.5,1.8],[3.5,1.8],[3.5,1.8],[3.5,1.8],[3.5,1.8],[3.5,1.8],[1,0]]}},
  "strokeWidth": {"field": "m", "type": "nominal", "legend": {"title": null}, "scale": {"type": "ordinal", "domain": ["A2dele","SSF","CMWNet","BBSNet","D3Net","ICNet","DRLF","DCFNet","DSA2F","CDINet","DSNet","HINet","AFNet","VST","SwinNet","Ours"], "range": [1,1,1,1,1,1,1,1,1,1,1,1,1,1,1,1.6]}}
 }},
{"title": {"text": "STERE", "fontWeight": "normal", "fontSize": 13, "offset": -3}, "width": 240, "height": 179, "data": {"name": "stere"},
 "mark": {"type": "line", "interpolate": "monotone", "clip": true},
 "encoding": {
  "x": {"field": "r", "type": "quantitative", "scale": {"domain": [0, 1], "nice": false, "zero": false}, "axis": {"title": "Recall", "values": [0, 0.2, 0.4, 0.6, 0.8, 1.0], "format": ".1f"}},
  "y": {"field": "p", "type": "quantitative", "scale": {"domain": [0.1, 1], "nice": false, "zero": false}, "axis": {"title": "Precision", "values": [0.1, 0.2, 0.3, 0.4, 0.5, 0.6, 0.7, 0.8, 0.9, 1.0], "format": ".1f"}},
  "color": {"field": "m", "type": "nominal", "legend": {"title": null}, "scale": {"domain": ["A2dele","SSF","CMWNet","BBSNet","D3Net","ICNet","DRLF","DCFNet","DSA2F","CDINet","DFMNet","RD3D","DSNet","MIA_DPD","DCMF","HINet","AFNet","VST","SwinNet","Ours"], "range": ["#ff7f0e","#1f77b4","#8c564b","#7f7f7f","#9acd32","#ffff00","#7cfc00","#8b0000","#00ffff","#cd853f","#00bfff","#006400","#4169e1","#9400d3","#ffc0cb","#90ee90","#ff1493","#d8bfd8","#3c9c3c","#d62728"]}},
  "strokeDash": {"field": "m", "type": "nominal", "legend": {"title": null}, "scale": {"domain": ["A2dele","SSF","CMWNet","BBSNet","D3Net","ICNet","DRLF","DCFNet","DSA2F","CDINet","DFMNet","RD3D","DSNet","MIA_DPD","DCMF","HINet","AFNet","VST","SwinNet","Ours"], "range": [[3.5,1.8],[3.5,1.8],[3.5,1.8],[3.5,1.8],[3.5,1.8],[3.5,1.8],[3.5,1.8],[3.5,1.8],[3.5,1.8],[3.5,1.8],[3.5,1.8],[3.5,1.8],[3.5,1.8],[3.5,1.8],[3.5,1.8],[3.5,1.8],[3.5,1.8],[3.5,1.8],[3.5,1.8],[1,0]]}},
  "strokeWidth": {"field": "m", "type": "nominal", "legend": {"title": null}, "scale": {"type": "ordinal", "domain": ["A2dele","SSF","CMWNet","BBSNet","D3Net","ICNet","DRLF","DCFNet","DSA2F","CDINet","DFMNet","RD3D","DSNet","MIA_DPD","DCMF","HINet","AFNet","VST","SwinNet","Ours"], "range": [1,1,1,1,1,1,1,1,1,1,1,1,1,1,1,1,1,1,1,1.6]}}
 }}
]
}
